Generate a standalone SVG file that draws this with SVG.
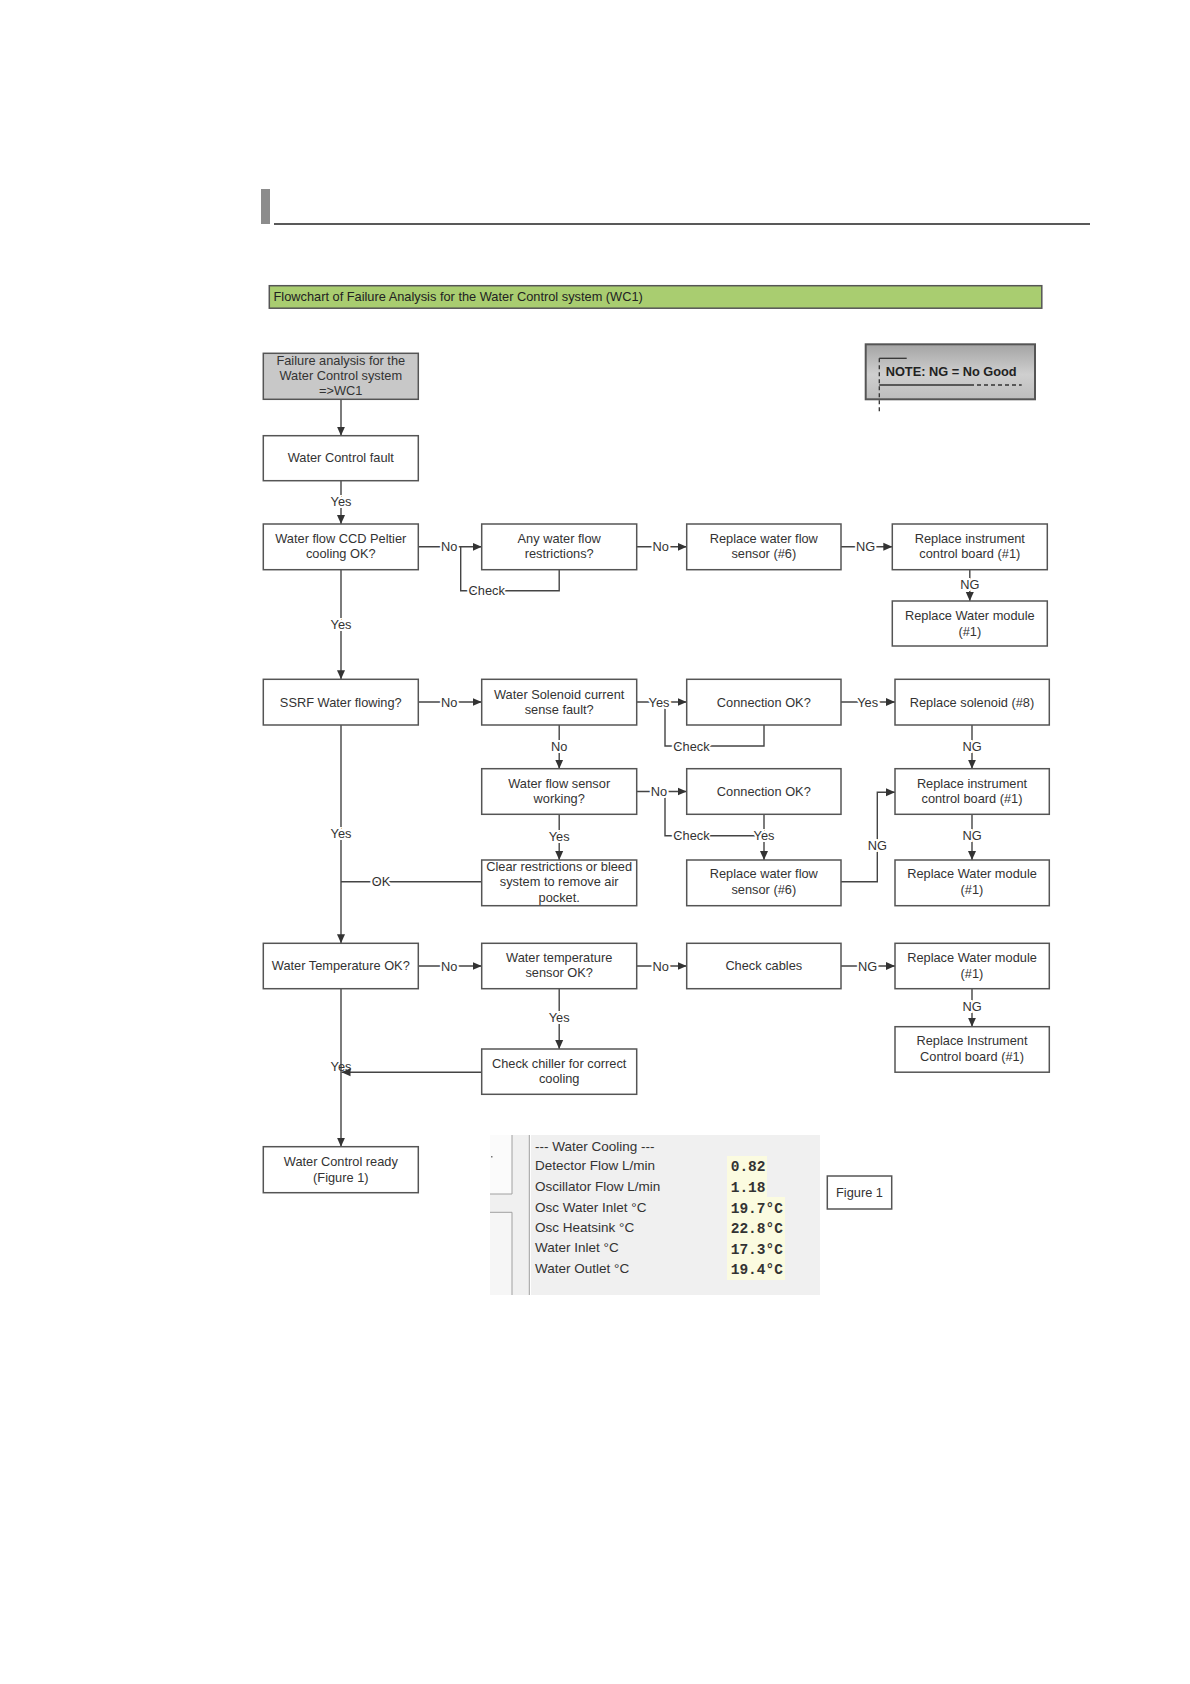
<svg xmlns="http://www.w3.org/2000/svg" width="1190" height="1684" viewBox="0 0 1190 1684">
<defs>
<style>
.box{fill:#fff;stroke:#555;stroke-width:1.5}
.t{font-family:"Liberation Sans",Arial,sans-serif;font-size:12.8px;fill:#333;text-anchor:middle}
.lbl{font-family:"Liberation Sans",Arial,sans-serif;font-size:12.8px;fill:#333;text-anchor:middle;stroke:#fff;stroke-width:4;paint-order:stroke}
.ln{fill:none;stroke:#444;stroke-width:1.4}
.arr{fill:none;stroke:#444;stroke-width:1.4;marker-end:url(#ah)}
.pt{font-family:"Liberation Sans",Arial,sans-serif;font-size:13.5px;fill:#333}
.pv{font-family:"Liberation Mono","Courier New",monospace;font-size:14.5px;font-weight:bold;fill:#333}
</style>
<marker id="ah" markerUnits="userSpaceOnUse" markerWidth="10" markerHeight="10" viewBox="0 0 10 10" refX="9" refY="5" orient="auto">
<path d="M0,1 L9,5 L0,9 Z" fill="#333"/>
</marker>
<linearGradient id="ng" x1="0" y1="0" x2="0" y2="1">
<stop offset="0" stop-color="#a4a4a4"/>
<stop offset="0.55" stop-color="#cfcfcf"/>
<stop offset="1" stop-color="#bdbdbd"/>
</linearGradient>
</defs>
<rect width="1190" height="1684" fill="#fff"/>

<g id="header">
<rect x="261" y="189" width="9" height="35" fill="#8c8c8c"/>
<line x1="274" y1="224" x2="1090" y2="224" stroke="#222" stroke-width="1.5"/>
</g>
<g id="title">
<rect x="269.3" y="285.7" width="772.5" height="22.5" fill="#a9cd70" stroke="#555" stroke-width="1.5"/>
<text x="273.5" y="301.3" font-family="Liberation Sans,Arial,sans-serif" font-size="12.8" fill="#222">Flowchart of Failure Analysis for the Water Control system (WC1)</text>
</g>

<g id="note">
<rect x="865.7" y="344.3" width="169.3" height="55" fill="url(#ng)" stroke="#555" stroke-width="2"/>
<line x1="879.3" y1="358.3" x2="906.7" y2="358.3" stroke="#333" stroke-width="1.3"/>
<line x1="879.3" y1="358.3" x2="879.3" y2="412.7" stroke="#333" stroke-width="1.3" stroke-dasharray="4,3"/>
<line x1="879.3" y1="385" x2="970" y2="385" stroke="#333" stroke-width="1.3"/>
<line x1="970" y1="385" x2="1021.7" y2="385" stroke="#333" stroke-width="1.3" stroke-dasharray="4,3"/>
<text x="885.7" y="376.3" font-family="Liberation Sans,Arial,sans-serif" font-size="12.8" font-weight="bold" fill="#222" textLength="131" lengthAdjust="spacingAndGlyphs">NOTE: NG = No Good</text>
</g>

<g id="connectors">
<path class="arr" d="M341,399.3 V435.7"/>
<path class="arr" d="M341,480.7 V524"/>
<text class="lbl" x="341" y="506.2">Yes</text>
<path class="arr" d="M418.3,546.8 H481.7"/>
<text class="lbl" x="449.3" y="551.3">No</text>
<path class="ln" d="M460.7,546.8 V590.7 H559.2 V569.7"/>
<text class="lbl" x="486.7" y="595.2">Check</text>
<path class="arr" d="M636.7,546.8 H686.7"/>
<text class="lbl" x="660.7" y="551.3">No</text>
<path class="arr" d="M841,546.8 H892.3"/>
<text class="lbl" x="865.7" y="551.3">NG</text>
<path class="arr" d="M969.8,569.7 V601"/>
<text class="lbl" x="969.8" y="588.8">NG</text>
<path class="arr" d="M341,569.7 V679.3"/>
<text class="lbl" x="341" y="628.5">Yes</text>
<path class="arr" d="M418.3,702 H481.7"/>
<text class="lbl" x="449.3" y="706.5">No</text>
<path class="ln" d="M665,702 V746 H764 V725"/>
<path class="arr" d="M636.7,702 H686.7"/>
<text class="lbl" x="659" y="706.5">Yes</text>
<text class="lbl" x="691.5" y="750.5">Check</text>
<path class="arr" d="M841,702 H895"/>
<text class="lbl" x="867.7" y="706.5">Yes</text>
<path class="arr" d="M972,725 V768.7"/>
<text class="lbl" x="972" y="750.5">NG</text>
<path class="arr" d="M559.2,725 V768.7"/>
<text class="lbl" x="559.2" y="750.5">No</text>
<path class="ln" d="M665,791.5 V835.7 H764"/>
<path class="arr" d="M636.7,791.5 H686.7"/>
<text class="lbl" x="659" y="796">No</text>
<path class="arr" d="M764,814.3 V860"/>
<text class="lbl" x="691.5" y="840.2">Check</text>
<text class="lbl" x="764" y="840.2">Yes</text>
<path class="arr" d="M559.2,814.3 V860"/>
<text class="lbl" x="559.2" y="840.5">Yes</text>
<path class="ln" d="M481.7,881.7 H341"/>
<text class="lbl" x="381" y="886.2">OK</text>
<path class="arr" d="M341,725 V943.3"/>
<text class="lbl" x="341" y="837.8">Yes</text>
<path class="arr" d="M841,881.7 H877.3 V792.3 H895"/>
<text class="lbl" x="877.3" y="849.5">NG</text>
<path class="arr" d="M972,814.3 V860"/>
<text class="lbl" x="972" y="840.2">NG</text>
<path class="arr" d="M418.3,966 H481.7"/>
<text class="lbl" x="449.3" y="970.5">No</text>
<path class="arr" d="M636.7,966 H686.7"/>
<text class="lbl" x="660.7" y="970.5">No</text>
<path class="arr" d="M841,966 H895"/>
<text class="lbl" x="867.7" y="970.5">NG</text>
<path class="arr" d="M972,988.7 V1026.7"/>
<text class="lbl" x="972" y="1011.2">NG</text>
<path class="arr" d="M559.2,988.7 V1049"/>
<text class="lbl" x="559.2" y="1022.2">Yes</text>
<path class="arr" d="M341,988.7 V1146.7"/>
<text class="lbl" x="341" y="1071.2" style="stroke-width:0">Yes</text>
<path class="arr" d="M481.7,1072.3 H341.5"/>
</g>

<g id="n_start"><rect x="263.3" y="353.3" width="155" height="46" fill="#c8c8c8" stroke="#555" stroke-width="1.5"/>
<text class="t" x="340.8" y="364.5">Failure analysis for the</text><text class="t" x="340.8" y="380.2">Water Control system</text><text class="t" x="340.8" y="395.2">=&gt;WC1</text></g>
<g id="n_fault"><rect class="box" x="263.3" y="435.7" width="155" height="45"/><text class="t" x="340.8" y="461.8">Water Control fault</text></g>
<g id="n_ccd"><rect class="box" x="263.3" y="524" width="155" height="45.7"/><text class="t" x="340.8" y="543.2">Water flow CCD Peltier</text><text class="t" x="340.8" y="558.2">cooling OK?</text></g>
<g id="n_restr"><rect class="box" x="481.7" y="524" width="155" height="45.7"/><text class="t" x="559.2" y="543.2">Any water flow</text><text class="t" x="559.2" y="558.2">restrictions?</text></g>
<g id="n_rfs1"><rect class="box" x="686.7" y="524" width="154.3" height="45.7"/><text class="t" x="763.8" y="543.2">Replace water flow</text><text class="t" x="763.8" y="558.2">sensor (#6)</text></g>
<g id="n_icb1"><rect class="box" x="892.3" y="524" width="155" height="45.7"/><text class="t" x="969.8" y="543.2">Replace instrument</text><text class="t" x="969.8" y="558.2">control board (#1)</text></g>
<g id="n_wm1"><rect class="box" x="892.3" y="601" width="155" height="45"/><text class="t" x="969.8" y="619.5">Replace Water module</text><text class="t" x="969.8" y="635.5">(#1)</text></g>

<g id="n_ssrf"><rect class="box" x="263.3" y="679.3" width="155" height="45.7"/><text class="t" x="340.8" y="706.5">SSRF Water flowing?</text></g>
<g id="n_sol"><rect class="box" x="481.7" y="679.3" width="155" height="45.7"/><text class="t" x="559.2" y="698.5">Water Solenoid current</text><text class="t" x="559.2" y="713.5">sense fault?</text></g>
<g id="n_conn1"><rect class="box" x="686.7" y="679.3" width="154.3" height="45.7"/><text class="t" x="763.8" y="706.5">Connection OK?</text></g>
<g id="n_rsol"><rect class="box" x="895" y="679.3" width="154.3" height="45.7"/><text class="t" x="972" y="706.5">Replace solenoid (#8)</text></g>

<g id="n_fsw"><rect class="box" x="481.7" y="768.7" width="155" height="45.6"/><text class="t" x="559.2" y="787.8">Water flow sensor</text><text class="t" x="559.2" y="803.2">working?</text></g>
<g id="n_conn2"><rect class="box" x="686.7" y="768.7" width="154.3" height="45.6"/><text class="t" x="763.8" y="796">Connection OK?</text></g>
<g id="n_icb2"><rect class="box" x="895" y="768.7" width="154.3" height="45.6"/><text class="t" x="972" y="787.8">Replace instrument</text><text class="t" x="972" y="803.2">control board (#1)</text></g>

<g id="n_clear"><rect class="box" x="481.7" y="860" width="155" height="45.7"/><text class="t" x="559.2" y="871.2">Clear restrictions or bleed</text><text class="t" x="559.2" y="886.2">system to remove air</text><text class="t" x="559.2" y="901.8">pocket.</text></g>
<g id="n_rfs2"><rect class="box" x="686.7" y="860" width="154.3" height="45.7"/><text class="t" x="763.8" y="877.8">Replace water flow</text><text class="t" x="763.8" y="893.8">sensor (#6)</text></g>
<g id="n_wm2"><rect class="box" x="895" y="860" width="154.3" height="45.7"/><text class="t" x="972" y="877.8">Replace Water module</text><text class="t" x="972" y="893.8">(#1)</text></g>

<g id="n_wt"><rect class="box" x="263.3" y="943.3" width="155" height="45.4"/><text class="t" x="340.8" y="969.5">Water Temperature OK?</text></g>
<g id="n_wts"><rect class="box" x="481.7" y="943.3" width="155" height="45.4"/><text class="t" x="559.2" y="961.8">Water temperature</text><text class="t" x="559.2" y="977.2">sensor OK?</text></g>
<g id="n_cab"><rect class="box" x="686.7" y="943.3" width="154.3" height="45.4"/><text class="t" x="763.8" y="969.5">Check cables</text></g>
<g id="n_wm3"><rect class="box" x="895" y="943.3" width="154.3" height="45.4"/><text class="t" x="972" y="961.8">Replace Water module</text><text class="t" x="972" y="977.8">(#1)</text></g>
<g id="n_icb3"><rect class="box" x="895" y="1026.7" width="154.3" height="45.5"/><text class="t" x="972" y="1044.5">Replace Instrument</text><text class="t" x="972" y="1060.5">Control board (#1)</text></g>
<g id="n_chill"><rect class="box" x="481.7" y="1049" width="155" height="45.3"/><text class="t" x="559.2" y="1067.8">Check chiller for correct</text><text class="t" x="559.2" y="1083.2">cooling</text></g>
<g id="n_ready"><rect class="box" x="263.3" y="1146.7" width="155" height="46"/><text class="t" x="340.8" y="1166.2">Water Control ready</text><text class="t" x="340.8" y="1181.8">(Figure 1)</text></g>

<g id="panel">
<rect x="490" y="1135" width="330" height="160" fill="#f0f0f0"/>
<rect x="490" y="1135" width="22" height="59" fill="#fbfbfb"/>
<path d="M512,1135 V1194 H490" fill="none" stroke="#a0a0a0" stroke-width="1"/>
<rect x="491" y="1156" width="1.5" height="1.5" fill="#777"/>
<rect x="490" y="1212.3" width="22" height="82.7" fill="#f6f6f6"/>
<path d="M490,1212.3 H512 V1295" fill="none" stroke="#a0a0a0" stroke-width="1"/>
<line x1="529.3" y1="1135" x2="529.3" y2="1295" stroke="#a0a0a0" stroke-width="1"/>
<line x1="530.5" y1="1135" x2="530.5" y2="1295" stroke="#fff" stroke-width="1"/>
<text class="pt" x="535" y="1150.5">--- Water Cooling ---</text>
<text class="pt" x="535" y="1169.8">Detector Flow L/min</text>
<text class="pt" x="535" y="1190.8">Oscillator Flow L/min</text>
<text class="pt" x="535" y="1211.5">Osc Water Inlet °C</text>
<text class="pt" x="535" y="1232">Osc Heatsink °C</text>
<text class="pt" x="535" y="1252">Water Inlet °C</text>
<text class="pt" x="535" y="1272.8">Water Outlet °C</text>
<rect x="727" y="1156" width="40" height="20" fill="#fbfbe0"/>
<rect x="727" y="1176" width="40" height="21" fill="#fbfbe0"/>
<rect x="727" y="1197" width="58" height="83" fill="#fbfbe0"/>
<text class="pv" x="730.7" y="1170.5">0.82</text>
<text class="pv" x="730.7" y="1191.5">1.18</text>
<text class="pv" x="730.7" y="1212.5">19.7°C</text>
<text class="pv" x="730.7" y="1232.5">22.8°C</text>
<text class="pv" x="730.7" y="1253.5">17.3°C</text>
<text class="pv" x="730.7" y="1273.5">19.4°C</text>
</g>
<g id="n_fig1"><rect x="827.3" y="1176" width="64.4" height="33" fill="#fff" stroke="#555" stroke-width="1.5"/><text class="t" x="859.5" y="1197">Figure 1</text></g>
</svg>
